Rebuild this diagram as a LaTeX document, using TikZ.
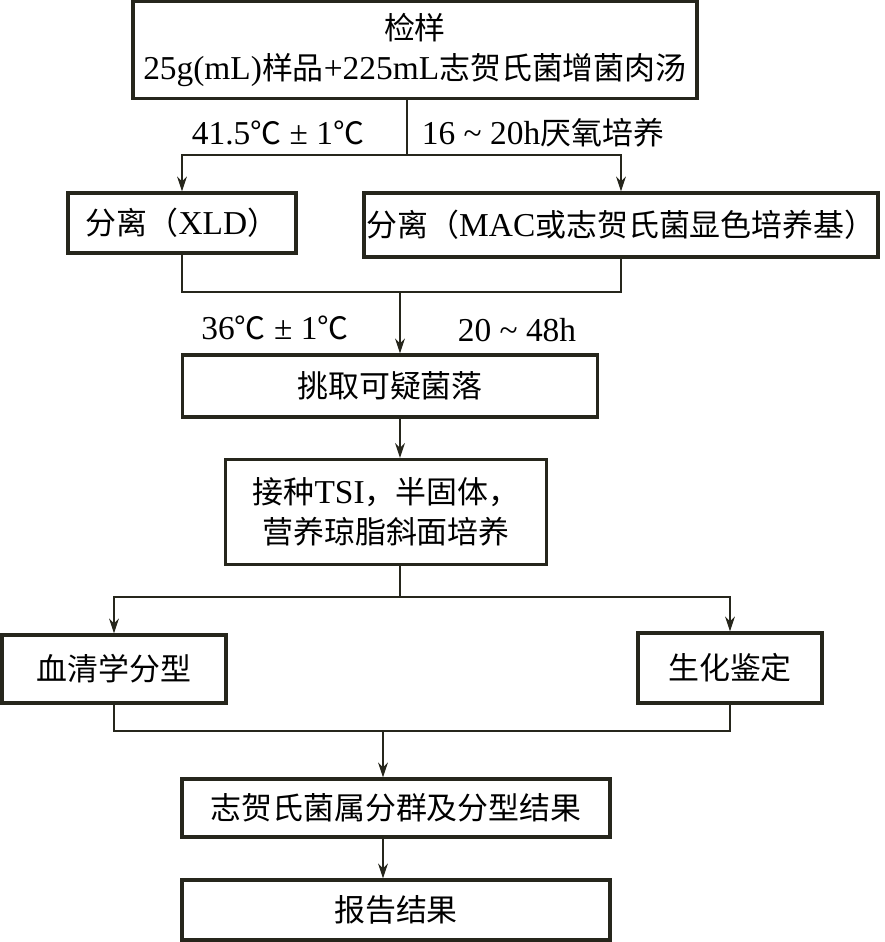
\documentclass[tikz,border=0pt]{standalone}
\usepackage{fontspec}
\setmainfont{Liberation Serif}[Scale=1.08]
\newfontfamily\cjk{Noto Sans CJK SC}
\usetikzlibrary{arrows.meta}
\definecolor{ink}{RGB}{38,38,28}
\tikzset{
    stepnode/.style={draw=ink, line width=2.4pt, inner sep=0pt, align=center,
        font=\fontsize{22}{28.5}\selectfont},
    flow/.style={draw=ink, line width=0.9pt},
    flowarrow/.style={flow, -{Stealth[length=10.5pt, width=7pt]}},
    note/.style={inner sep=0pt, font=\fontsize{22}{25}\selectfont}
}
\begin{document}
\begin{tikzpicture}[x=0.025cm, y=-0.025cm]
    \useasboundingbox (0,0) rectangle (885,942);
    % Boxes
    \node[stepnode, minimum width=14.1cm, minimum height=2.425cm] (sample) at (415,50)
        {{\cjk 检样}\\25g(mL){\cjk 样品}+225mL{\cjk 志贺氏菌增菌肉汤}};
    \node[stepnode, minimum width=5.7cm, minimum height=1.5cm] (xld) at (182,223)
        {{\cjk 分离（}XLD{\cjk ）}};
    \node[stepnode, minimum width=12.85cm, minimum height=1.6cm] (mac) at (621,225)
        {{\cjk 分离（}MAC{\cjk 或志贺氏菌显色培养基）}};
    \node[stepnode, minimum width=10.375cm, minimum height=1.55cm] (pick) at (390,386)
        {\cjk 挑取可疑菌落};
    \node[stepnode, minimum width=8.025cm, minimum height=2.625cm] (inoc) at (386,512)
        {{\cjk 接种}TSI{\cjk ，半固体，}\\{\cjk 营养琼脂斜面培养}};
    \node[stepnode, minimum width=5.6cm, minimum height=1.7cm] (sero) at (114,669)
        {\cjk 血清学分型};
    \node[stepnode, minimum width=4.6cm, minimum height=1.75cm] (bio) at (730,668)
        {\cjk 生化鉴定};
    \node[stepnode, minimum width=10.7cm, minimum height=1.45cm] (result) at (396,808)
        {\cjk 志贺氏菌属分群及分型结果};
    \node[stepnode, minimum width=10.7cm, minimum height=1.5cm] (report) at (396,910)
        {\cjk 报告结果};
    % Labels
    \node[note] (t1) at (278,133) {41.5{\cjk ℃} ± 1{\cjk ℃}};
    \node[note] (t2) at (543,133) {16 \textasciitilde{} 20h{\cjk 厌氧培养}};
    \node[note] (t3) at (275,328) {36{\cjk ℃} ± 1{\cjk ℃}};
    \node[note] (t4) at (517,330) {20 \textasciitilde{} 48h};
    % Coordinate
    \coordinate (j1) at (407,155);
    \coordinate (j2) at (400,292);
    \coordinate (j3) at (400,597);
    \coordinate (j4) at (383,731);
    % Linee
    \draw[flow] (sample.south -| j1) -- (j1);
    \draw[flowarrow] (j1) -| (xld.north);
    \draw[flowarrow] (j1) -| (mac.north);
    \draw[flow] (xld.south) |- (j2) -| (mac.south);
    \draw[flowarrow] (j2) -- (j2 |- pick.north);
    \draw[flowarrow] (pick.south -| j2) -- (inoc.north -| j2);
    \draw[flow] (inoc.south -| j3) -- (j3);
    \draw[flowarrow] (j3) -| (sero.north);
    \draw[flowarrow] (j3) -| (bio.north);
    \draw[flow] (sero.south) |- (j4) -| (bio.south);
    \draw[flowarrow] (j4) -- (j4 |- result.north);
    \draw[flowarrow] (result.south -| j4) -- (report.north -| j4);
\end{tikzpicture}
\end{document}
